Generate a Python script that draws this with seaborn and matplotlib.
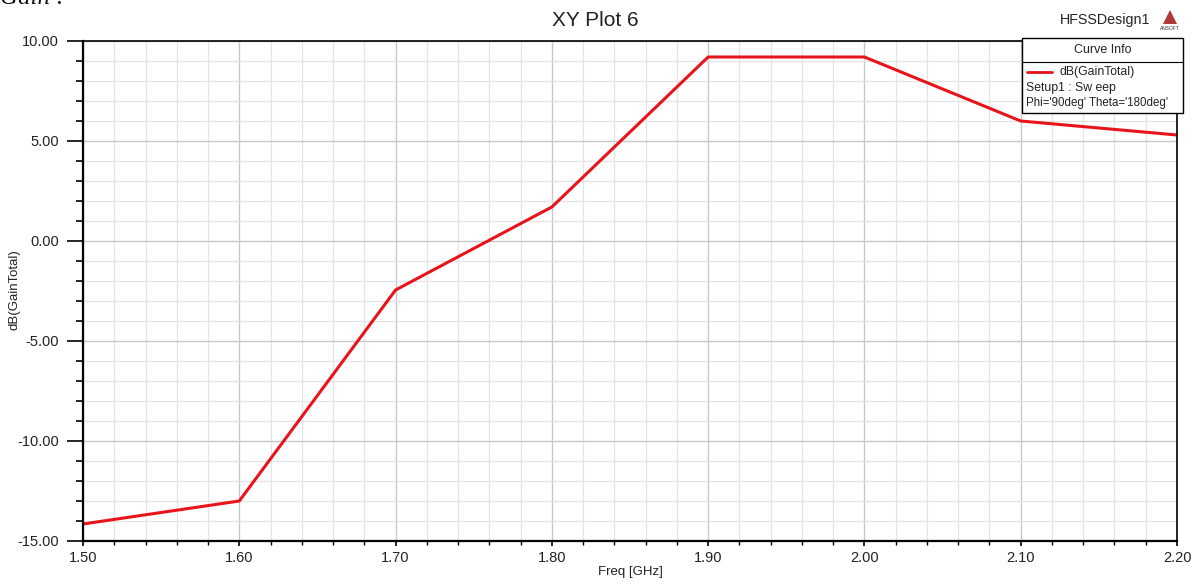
import matplotlib
matplotlib.use("Agg")
import matplotlib.pyplot as plt
from matplotlib.patches import Rectangle, Polygon
from matplotlib.lines import Line2D
from matplotlib.ticker import MultipleLocator, FormatStrFormatter
import seaborn as sns
import pandas as pd

freq = [1.5, 1.6, 1.7, 1.8, 1.9, 2.0, 2.1, 2.2]
gain = [-14.15, -13.0, -2.45, 1.7, 9.2, 9.2, 6.0, 5.3]
x_ticks = [1.5, 1.6, 1.7, 1.8, 1.9, 2.0, 2.1, 2.2]
y_ticks = [-15, -10, -5, 0, 5, 10]

sns.set_theme(style="white")
plt.rcParams['font.family'] = ['Liberation Sans', 'DejaVu Sans']

W, H = 1199, 585
fig = plt.figure(figsize=(W / 100, H / 100), dpi=100)
ax = fig.add_axes([83 / W, 1 - 541 / H, (1177 - 83) / W, (541 - 41) / H])

df = pd.DataFrame({"Freq": freq, "Gain": gain})
sns.lineplot(data=df, x="Freq", y="Gain", ax=ax, color="#e8141b", lw=2.2)

ax.set_xlim(1.5, 2.2)
ax.set_ylim(-15, 10)
ax.set_xticks(x_ticks)
ax.set_yticks(y_ticks)
ax.xaxis.set_minor_locator(MultipleLocator(0.02))
ax.yaxis.set_minor_locator(MultipleLocator(1))
ax.xaxis.set_major_formatter(FormatStrFormatter('%.2f'))
ax.yaxis.set_major_formatter(FormatStrFormatter('%.2f'))

ax.grid(which='major', color='#c8c8c8', lw=1.0)
ax.grid(which='minor', color='#e4e4e4', lw=0.9)
ax.set_axisbelow(True)

for s in ax.spines.values():
    s.set_color('black')
    s.set_linewidth(1.2)
ax.spines['left'].set_linewidth(1.6)
ax.spines['bottom'].set_linewidth(1.6)

ax.tick_params(axis='y', which='major', direction='out', length=11.5, width=1.2,
               color='black', labelsize=10.5, pad=6, left=True)
ax.tick_params(axis='y', which='minor', direction='out', length=5, width=1.2,
               color='black', left=True)
ax.tick_params(axis='x', which='major', direction='out', length=3.5, width=1.2,
               color='black', labelsize=10.5, pad=4, bottom=True)
ax.tick_params(axis='x', which='minor', direction='out', length=3, width=1.0,
               color='black', bottom=True)
for lab in ax.get_xticklabels() + ax.get_yticklabels():
    lab.set_color('#222222')

ax.set_xlabel("")
ax.set_ylabel("")
fig.text(630 / W, 1 - 572 / H, "Freq [GHz]", ha='center', va='center', fontsize=9.5, color='#222222')
fig.text(15 / W, 1 - 290 / H, "dB(GainTotal)", ha='center', va='center', rotation=90,
         fontsize=9.5, color='#222222')

fig.text(595 / W, 1 - 21 / H, "XY Plot 6", ha='center', va='center', fontsize=15, color='#222222')
fig.text(1060 / W, 1 - 20 / H, "HFSSDesign1", ha='left', va='center', fontsize=10.3, color='#222222')

# Ansoft logo
tri = Polygon([[1163 / W, 1 - 24 / H], [1177 / W, 1 - 24 / H], [1170 / W, 1 - 10 / H]],
              closed=True, transform=fig.transFigure, facecolor='#b03838', edgecolor='none')
fig.add_artist(tri)
fig.text(1170 / W, 1 - 28 / H, "ANSOFT", ha='center', va='center', fontsize=3.5, color='#333333')

# top-left cropped caption
fig.text(0 / W, 1 - 4 / H, "Gain :", ha='left', va='baseline', fontsize=18,
         family=['Liberation Serif'], style='italic', color='#111111')

# Curve info box
bx0, bx1, by0, by1 = 1022, 1183, 38, 113
fig.add_artist(Rectangle((bx0 / W, 1 - by1 / H), (bx1 - bx0) / W, (by1 - by0) / H,
                         transform=fig.transFigure, facecolor='white', edgecolor='black', lw=1.0, zorder=5))
fig.add_artist(Line2D([bx0 / W, bx1 / W], [1 - 62 / H, 1 - 62 / H], transform=fig.transFigure,
                      color='black', lw=0.8, zorder=6))
fig.text((bx0 + bx1) / 2 / W, 1 - 50 / H, "Curve Info", ha='center', va='center', fontsize=9,
         color='#222222', zorder=7)
fig.add_artist(Line2D([1027 / W, 1052 / W], [1 - 72 / H, 1 - 72 / H], transform=fig.transFigure,
                      color='#e8141b', lw=2.0, zorder=7))
fig.text(1060 / W, 1 - 72 / H, "dB(GainTotal)", ha='left', va='center', fontsize=8.8, color='#222222', zorder=7)
fig.text(1026 / W, 1 - 88 / H, "Setup1 : Sw eep", ha='left', va='center', fontsize=8.8, color='#222222', zorder=7)
fig.text(1026 / W, 1 - 103 / H, "Phi='90deg' Theta='180deg'", ha='left', va='center', fontsize=8.3,
         color='#222222', zorder=7)

fig.savefig("out.png", dpi=100)
